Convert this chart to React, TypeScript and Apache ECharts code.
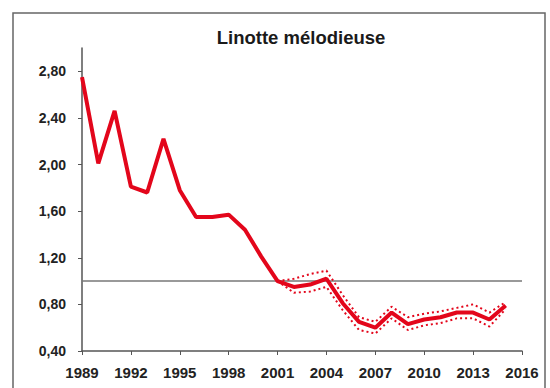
import React, { useEffect, useRef } from "react";
import * as echarts from "echarts";

const years = [1989,1990,1991,1992,1993,1994,1995,1996,1997,1998,1999,2000,2001,2002,2003,2004,2005,2006,2007,2008,2009,2010,2011,2012,2013,2014,2015];
const index = [2.75,2.01,2.46,1.81,1.76,2.22,1.78,1.55,1.55,1.57,1.44,1.21,1.00,0.95,0.97,1.02,0.81,0.65,0.60,0.73,0.63,0.67,0.69,0.73,0.73,0.67,0.79];
const ciYears = [2001,2002,2003,2004,2005,2006,2007,2008,2009,2010,2011,2012,2013,2014,2015];
const upper = [1.00,1.02,1.06,1.09,0.88,0.69,0.65,0.78,0.69,0.72,0.74,0.77,0.80,0.73,0.82];
const lower = [1.00,0.90,0.91,0.95,0.75,0.58,0.55,0.68,0.58,0.62,0.64,0.68,0.68,0.61,0.76];
const refYears = [1989, 2016];
const refValue = 1.0;
const title = "Linotte mélodieuse";

export default function App() {
  const ref = useRef<HTMLDivElement>(null);
  useEffect(() => {
    if (!ref.current) return;
    const chart = echarts.init(ref.current, null, { renderer: "svg" });
    const red = "#e3061b";
    const font = "'Liberation Sans', Arial, sans-serif";
    chart.setOption({
      animation: false,
      backgroundColor: "#fff",
      title: {
        text: title,
        left: 296,
        top: 23,
        textAlign: "center",
        textStyle: { fontFamily: font, fontSize: 18.5, fontWeight: "bold", color: "#1a1a1a" },
      },
      graphic: [
        {
          type: "rect",
          shape: { x: 13, y: 13, width: 532, height: 380 },
          style: { fill: "none", stroke: "#666", lineWidth: 1.5 },
          silent: true,
        },
      ],
      grid: { left: 82, right: 28, top: 48, bottom: 37, containLabel: false },
      xAxis: {
        type: "value",
        min: 1989,
        max: 2016,
        interval: 3,
        splitLine: { show: false },
        axisLine: { lineStyle: { color: "#555", width: 1.5 } },
        axisTick: { length: 4, lineStyle: { color: "#555" } },
        axisLabel: {
          formatter: (v: number) => String(v),
          fontFamily: font,
          fontSize: 15,
          fontWeight: "bold",
          color: "#222",
          margin: 14,
        },
      },
      yAxis: {
        type: "value",
        min: 0.4,
        max: 3.0,
        interval: 0.4,
        splitLine: { show: false },
        axisLine: { show: true, lineStyle: { color: "#555", width: 1.5 } },
        axisTick: { show: true, length: 4, lineStyle: { color: "#555" } },
        axisLabel: {
          showMaxLabel: false,
          formatter: (v: number) => v.toFixed(2).replace(".", ","),
          fontFamily: font,
          fontSize: 14,
          fontWeight: "bold",
          color: "#222",
          margin: 16,
        },
      },
      series: [
        {
          type: "line",
          data: refYears.map((y) => [y, refValue]),
          symbol: "none",
          lineStyle: { color: "#777", width: 1.5 },
          z: 1,
        },
        {
          type: "line",
          data: ciYears.map((y, i) => [y, upper[i]]),
          symbol: "none",
          lineStyle: { color: red, width: 2, type: [2, 3] },
          z: 2,
        },
        {
          type: "line",
          data: ciYears.map((y, i) => [y, lower[i]]),
          symbol: "none",
          lineStyle: { color: red, width: 2, type: [2, 3] },
          z: 2,
        },
        {
          type: "line",
          data: years.map((y, i) => [y, index[i]]),
          symbol: "none",
          lineStyle: { color: red, width: 4 },
          z: 3,
        },
      ],
    });
    return () => chart.dispose();
  }, []);
  return (
    <div
      ref={ref}
      style={{ position: "absolute", left: 0, top: 0, width: 550, height: 388 }}
    />
  );
}
